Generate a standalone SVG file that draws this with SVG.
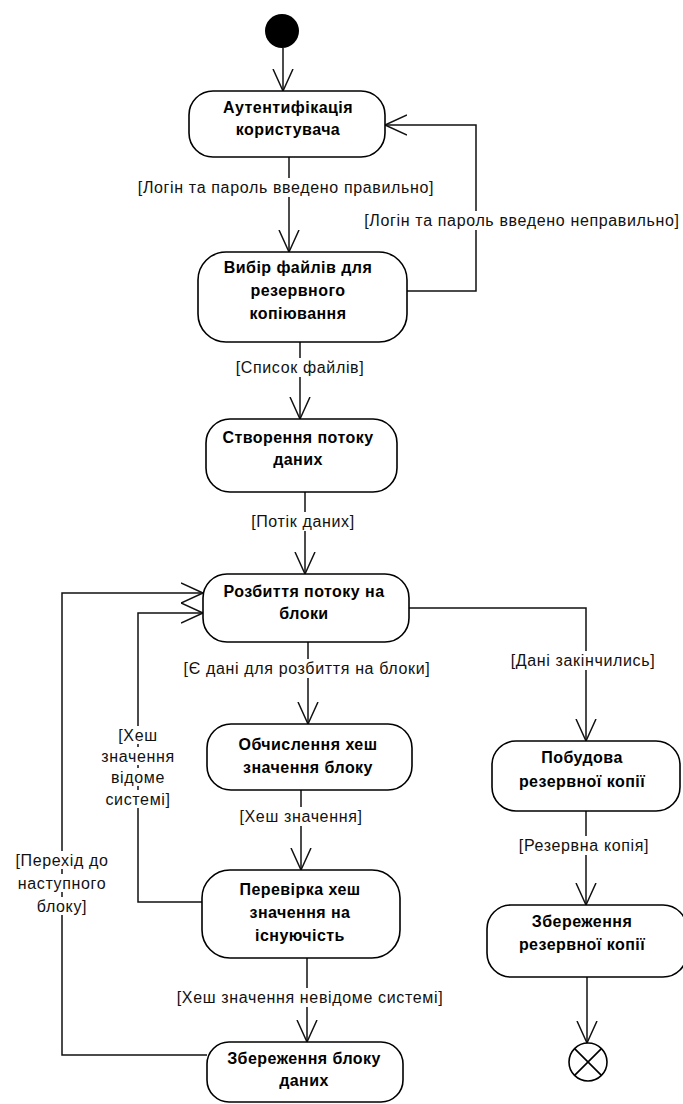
<svg xmlns="http://www.w3.org/2000/svg" width="683" height="1104" viewBox="0 0 683 1104">
<defs>
<style>
.node rect{fill:#fff;stroke:#000;stroke-width:1.6}
.node text{font-family:"Liberation Sans",Arial,sans-serif;font-weight:bold;font-size:16px;letter-spacing:0.45px;fill:#000;text-anchor:middle;dominant-baseline:central}
.conn path{fill:none;stroke:#111;stroke-width:1.5}
.lbl text{font-family:"Liberation Sans",Arial,sans-serif;font-size:16px;letter-spacing:0.65px;fill:#111;text-anchor:middle;dominant-baseline:central}
.lbl rect{fill:#fff;stroke:none}
</style>
<marker id="arr" markerWidth="24" markerHeight="24" viewBox="0 0 24 24" refX="22" refY="12" orient="auto" markerUnits="userSpaceOnUse">
<path d="M0,2 L22,12 L0,22" fill="none" stroke="#111" stroke-width="1.5"/>
</marker>
</defs>
<rect width="683" height="1104" fill="#fff"/>

<g id="connectors" class="conn">
<path d="M283,48 L283,91" marker-end="url(#arr)"/>
<path d="M289,157 L289,252" marker-end="url(#arr)"/>
<path d="M407,291 L476,291 L476,125 L385,125" marker-end="url(#arr)"/>
<path d="M300,342 L300,419" marker-end="url(#arr)"/>
<path d="M305,492 L305,574" marker-end="url(#arr)"/>
<path d="M308,642 L308,724" marker-end="url(#arr)"/>
<path d="M409,608 L586,608 L586,741" marker-end="url(#arr)"/>
<path d="M301,790 L301,870" marker-end="url(#arr)"/>
<path d="M202,902 L138,902 L138,613 L203,613" marker-end="url(#arr)"/>
<path d="M307,958 L307,1042" marker-end="url(#arr)"/>
<path d="M207,1055 L62,1055 L62,593 L203,593" marker-end="url(#arr)"/>
<path d="M586,811 L586,905" marker-end="url(#arr)"/>
<path d="M587,977 L587,1043" marker-end="url(#arr)"/>
</g>

<g id="labels" class="lbl">
<rect x="134" y="178" width="304" height="19"/><text x="286" y="187">[Логін та пароль введено правильно]</text>
<rect x="360" y="211" width="323" height="19"/><text x="522" y="220">[Логін та пароль введено неправильно]</text>
<rect x="232" y="358" width="136" height="19"/><text x="300" y="367">[Список файлів]</text>
<rect x="248" y="512" width="110" height="19"/><text x="303" y="521">[Потік даних]</text>
<rect x="181" y="659" width="252" height="19"/><text x="307" y="668">[Є дані для розбиття на блоки]</text>
<rect x="507" y="651" width="152" height="19"/><text x="583" y="660">[Дані закінчились]</text>
<rect x="238" y="807" width="126" height="19"/><text x="301" y="816">[Хеш значення]</text>
<rect x="116" y="726" width="44" height="18"/><text x="138" y="735">[Хеш</text>
<rect x="104" y="747" width="68" height="18"/><text x="138" y="756">значення</text>
<rect x="110" y="768" width="56" height="18"/><text x="138" y="777">відоме</text>
<rect x="104" y="790" width="68" height="18"/><text x="138" y="799">системі]</text>
<rect x="10" y="851" width="104" height="18"/><text x="62" y="860">[Перехід до</text>
<rect x="14" y="874" width="96" height="18"/><text x="62" y="883">наступного</text>
<rect x="28" y="897" width="68" height="18"/><text x="62" y="906">блоку]</text>
<rect x="173" y="988" width="274" height="19"/><text x="310" y="997">[Хеш значення невідоме системі]</text>
<rect x="515" y="836" width="139" height="19"/><text x="584" y="845">[Резервна копія]</text>
</g>

<g id="start"><circle cx="282" cy="31" r="17" fill="#000"/></g>

<g id="n1" class="node"><rect x="189" y="91" width="196" height="66" rx="24"/><text x="288" y="107">Аутентифікація</text><text x="288" y="129">користувача</text></g>
<g id="n2" class="node"><rect x="198" y="252" width="209" height="90" rx="28"/><text x="298" y="267">Вибір файлів для</text><text x="298" y="290">резервного</text><text x="298" y="313">копіювання</text></g>
<g id="n3" class="node"><rect x="206" y="419" width="191" height="73" rx="24"/><text x="298" y="437">Створення потоку</text><text x="298" y="459">даних</text></g>
<g id="n4" class="node"><rect x="203" y="574" width="206" height="68" rx="24"/><text x="304" y="591">Розбиття потоку на</text><text x="304" y="613">блоки</text></g>
<g id="n5" class="node"><rect x="207" y="724" width="205" height="66" rx="24"/><text x="308" y="744">Обчислення хеш</text><text x="308" y="767">значення блоку</text></g>
<g id="n6" class="node"><rect x="202" y="870" width="198" height="88" rx="28"/><text x="300" y="889">Перевірка хеш</text><text x="300" y="912">значення на</text><text x="300" y="935">існуючість</text></g>
<g id="n7" class="node"><rect x="207" y="1042" width="196" height="60" rx="22"/><text x="304" y="1058">Збереження блоку</text><text x="304" y="1080">даних</text></g>
<g id="n8" class="node"><rect x="492" y="741" width="188" height="70" rx="24"/><text x="582" y="757">Побудова</text><text x="582" y="781">резервної копії</text></g>
<g id="n9" class="node"><rect x="487" y="905" width="200" height="72" rx="24"/><text x="582" y="921">Збереження</text><text x="582" y="944">резервної копії</text></g>

<g id="final"><circle cx="588" cy="1062" r="19" fill="#fff" stroke="#000" stroke-width="1.6"/><path d="M574.6,1048.6 L601.4,1075.4 M601.4,1048.6 L574.6,1075.4" stroke="#000" stroke-width="1.6"/></g>
</svg>
